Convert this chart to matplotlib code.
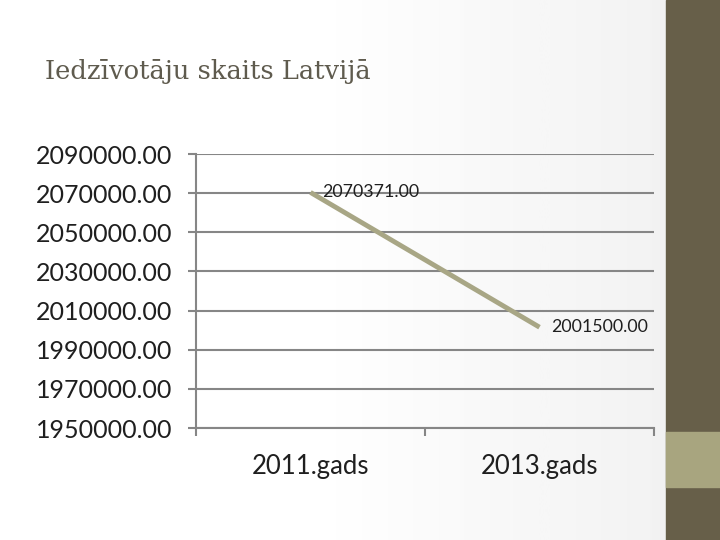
import numpy as np
import matplotlib.pyplot as plt
from matplotlib.patches import Rectangle

title = 'Iedzīvotāju skaits Latvijā'
years = ['2011.gads', '2013.gads']
population = [2070371.00, 2001500.00]
y_ticks = [1950000, 1970000, 1990000, 2010000, 2030000, 2050000, 2070000, 2090000]

grid_col = '#868686'
line_col = '#A8A685'
text_col = '#1F1F1F'

fig = plt.figure(figsize=(7.2, 5.4), dpi=100)

# slide background with soft gradient and side bands
bg = fig.add_axes([0, 0, 1, 1], zorder=-10)
grad = np.linspace(0, 1, 256)
vals = np.clip((grad - 0.45) / 0.5, 0, 1)
bg.imshow(vals[np.newaxis, :], aspect='auto', cmap='Greys', vmin=0, vmax=9,
          extent=[0, 1, 0, 1])
bg.add_patch(Rectangle((666 / 720, 0), 54 / 720, 1, color='#675F49', zorder=2))
bg.add_patch(Rectangle((666 / 720, 1 - 487 / 540), 54 / 720, 55 / 540,
                       color='#A8A57F', zorder=3))
bg.set_xlim(0, 1)
bg.set_ylim(0, 1)
bg.axis('off')

fig.text(45 / 720, 1 - 72 / 540, title, family='DejaVu Serif', fontsize=18.5,
         color='#5F5B4E', va='center', ha='left')

ax = fig.add_axes([196 / 720, 1 - 428 / 540, 458 / 720, 274 / 540])
ax.patch.set_alpha(0)
x = np.arange(len(years))
ax.plot(x, population, color=line_col, lw=3.5, solid_capstyle='butt', zorder=3)

ax.set_xlim(-0.5, len(years) - 0.5)
ax.set_ylim(y_ticks[0], y_ticks[-1])
ax.set_yticks(y_ticks)
ax.set_yticklabels([f'{v:.2f}' for v in y_ticks], family='Lato', fontsize=18,
                   color=text_col)
ax.set_xticks(x)
ax.set_xticklabels(years, family='Lato', fontsize=18.5, color=text_col)
ax.set_xticks(np.arange(-0.5, len(years)), minor=True)
ax.tick_params(axis='x', which='major', length=0, pad=19)
ax.tick_params(axis='x', which='minor', length=6, width=1.5, color=grid_col,
               direction='out')
ax.tick_params(axis='y', length=6, width=1.5, color=grid_col, pad=11)
for lbl in ax.get_yticklabels():
    lbl.set_ha('right')
ax.grid(axis='y', color=grid_col, lw=1.5)
for side in ['top', 'right']:
    ax.spines[side].set_visible(False)
for side in ['left', 'bottom']:
    ax.spines[side].set_color(grid_col)
    ax.spines[side].set_linewidth(1.5)

for xi, v in zip(x, population):
    ax.annotate(f'{v:.2f}', (xi, v), xytext=(8, 0), textcoords='offset points',
                va='center', ha='left', family='Lato', fontsize=12.8,
                color=text_col)

fig.savefig('out.png', dpi=100)
